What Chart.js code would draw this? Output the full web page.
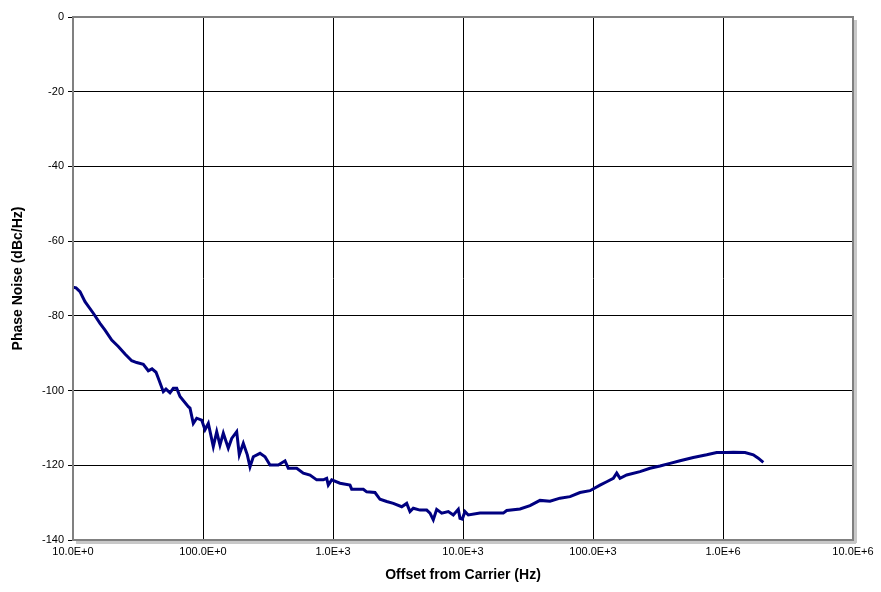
<!DOCTYPE html>
<html>
<head>
<meta charset="utf-8">
<script src="https://cdn.jsdelivr.net/npm/chart.js@4/dist/chart.umd.min.js"></script>
<style>
  html, body { margin: 0; padding: 0; background: #ffffff; }
  #wrap { width: 881px; height: 592px; }
</style>
</head>
<body>
<div id="wrap"><canvas id="c" width="881" height="592"></canvas></div>
<script>
// Offset frequency (Hz)
const offsetHz = [
  10, 10.55, 11.32, 12.37, 14.33, 16.13, 17.63, 19.85, 22.31, 25.12,
  28.28, 30.9, 34.74, 37.95, 40.52, 43.5, 45.32, 49.5, 51.93, 55.74,
  59.1, 62.8, 66.55, 77.1, 79.43, 84.22, 89.45, 97.72, 103.6, 109.9,
  120.0, 127.5, 135.1, 143.3, 156.5, 166.3, 181.6, 190.2, 204.2, 219.2,
  229.9, 243.8, 274.5, 299.9, 327.6, 379.6, 427.4, 453.1, 525.8, 590.9,
  665.5, 749.3, 842.2, 894.4, 920.1, 977.2, 1132, 1351, 1392, 1711,
  1816, 2104, 2299, 2589, 2910, 3377, 3689, 3910, 4147, 4668,
  5258, 5575, 5908, 6276, 6859, 7708, 8421, 9200, 9482, 9876,
  10360, 10985, 13514, 20417, 21690, 27450, 32760, 39110, 46690, 55750,
  66550, 79430, 94820, 113200, 127500, 143300, 152200, 161300, 181600, 229900,
  274500, 327600, 391100, 466900, 590900, 749300, 894400, 1068000, 1200000, 1476000,
  1711000, 1868000, 2042000
];
// Phase noise (dBc/Hz)
const phaseNoise = [
  -72.3, -72.5, -73.5, -76.2, -79.3, -82.0, -83.8, -86.5, -88.2, -90.2,
  -92.0, -92.5, -93.0, -94.7, -94.2, -95.1, -96.7, -100.3, -99.6, -100.6,
  -99.4, -99.4, -101.6, -104.3, -104.7, -108.8, -107.4, -107.9, -110.5, -108.8,
  -115.0, -111.0, -114.6, -111.4, -115.4, -112.8, -111.0, -117.2, -114.1, -117.2,
  -120.4, -117.7, -116.8, -117.7, -119.9, -119.9, -118.8, -120.8, -120.8, -122.1,
  -122.6, -123.9, -123.9, -123.5, -125.3, -123.9, -124.8, -125.3, -126.4, -126.4,
  -127.1, -127.3, -129.1, -129.7, -130.2, -131.1, -130.2, -132.4, -131.5, -132.0,
  -132.0, -132.8, -134.6, -131.8, -132.8, -132.4, -133.3, -131.8, -134.2, -134.4,
  -132.4, -133.3, -132.8, -132.8, -132.1, -131.7, -130.8, -129.4, -129.6, -128.8,
  -128.4, -127.3, -126.8, -125.3, -124.4, -123.5, -122.1, -123.5, -122.6, -121.7,
  -120.8, -120.2, -119.5, -118.8, -117.9, -117.2, -116.6, -116.6, -116.5, -116.6,
  -117.2, -118.1, -119.2
];
// Axis ticks
const xTickValues = [10, 100, 1000, 10000, 100000, 1000000, 10000000];
const xTickLabels = ['10.0E+0', '100.0E+0', '1.0E+3', '10.0E+3', '100.0E+3', '1.0E+6', '10.0E+6'];
const yTickValues = [0, -20, -40, -60, -80, -100, -120, -140];

const points = offsetHz.map((f, i) => ({ x: f, y: phaseNoise[i] }));

const frame = {
  id: 'frame',
  afterDatasetsDraw(chart) {
    const { ctx, chartArea: a } = chart;
    ctx.save();
    ctx.fillStyle = '#c8c8c8';
    ctx.fillRect(a.right + 1, a.top + 3, 3, a.bottom - a.top);
    ctx.fillRect(a.left + 3, a.bottom + 1, a.right - a.left, 3);
    ctx.strokeStyle = '#808080';
    ctx.lineWidth = 2;
    ctx.strokeRect(a.left, a.top, a.right - a.left, a.bottom - a.top);
    ctx.restore();
  }
};

new Chart(document.getElementById('c'), {
  type: 'line',
  data: {
    datasets: [{
      data: points,
      borderColor: '#000080',
      borderWidth: 3,
      pointRadius: 0,
      tension: 0,
      fill: false
    }]
  },
  options: {
    responsive: false,
    animation: false,
    layout: { padding: { top: 17, right: 28, left: 0, bottom: 0 } },
    plugins: { legend: { display: false }, tooltip: { enabled: false } },
    scales: {
      x: {
        type: 'logarithmic',
        min: 10,
        max: 10000000,
        afterBuildTicks: s => { s.ticks = xTickValues.map(v => ({ value: v })); },
        afterFit: s => { s.height = 52; },
        ticks: {
          autoSkip: false,
          maxRotation: 0,
          padding: 5,
          color: '#000',
          font: { family: 'Liberation Sans', size: 11 },
          callback: (v, i) => xTickLabels[i]
        },
        grid: { color: '#000', lineWidth: 1, drawTicks: false },
        border: { display: false },
        title: {
          display: true,
          text: 'Offset from Carrier (Hz)',
          color: '#000',
          font: { family: 'Liberation Sans', size: 14, weight: 'bold' },
          padding: { top: 0, bottom: 8 }
        }
      },
      y: {
        min: -140,
        max: 0,
        afterBuildTicks: s => { s.ticks = yTickValues.map(v => ({ value: v })); },
        afterFit: s => { s.width = 73; },
        ticks: {
          padding: 4,
          color: '#000',
          font: { family: 'Liberation Sans', size: 11 }
        },
        grid: { color: '#000', lineWidth: 1, tickLength: 5 },
        border: { display: false },
        title: {
          display: true,
          text: 'Phase Noise (dBc/Hz)',
          color: '#000',
          font: { family: 'Liberation Sans', size: 14, weight: 'bold' },
          padding: { top: 10, bottom: 0 }
        }
      }
    }
  },
  plugins: [frame]
});
</script>
</body>
</html>
